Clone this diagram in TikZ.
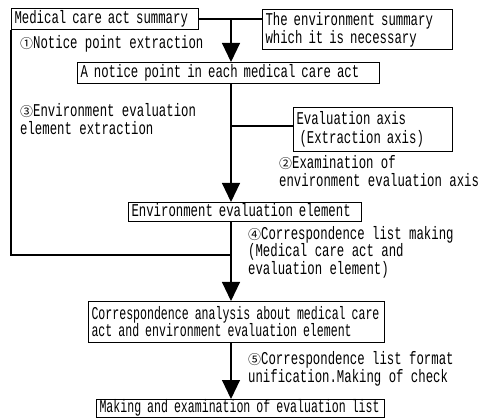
\documentclass[tikz,border=0pt]{standalone}
\usepackage{fontspec}
\setmainfont{Liberation Mono}[FakeStretch=0.685]
\newfontfamily\narrowfont{Liberation Mono}[FakeStretch=0.643]
\newfontfamily\cjkfont{Noto Sans CJK JP}
\usetikzlibrary{arrows.meta}
\newcommand\cnum[1]{{\cjkfont\fontsize{13}{16}\selectfont #1}}
\begin{document}
\begin{tikzpicture}[x=1pt,y=-1pt,
  font=\fontsize{18}{16}\selectfont,
  box/.style={draw,line width=1.1pt,anchor=north west,inner xsep=3pt,inner ysep=0pt,align=left},
  one/.style={text height=11pt,text depth=3pt},
  lbl/.style={anchor=west,inner sep=0pt,align=left,font=\fontsize{18}{17.5}\selectfont},
  conn/.style={line width=1.1pt},
  arr/.style={line width=1.1pt,-{Triangle[length=19pt,width=18pt]}}]
\useasboundingbox (0,0) rectangle (479,419);
% boxes
\node[box,one,text width=181pt,minimum height=21pt] (b1) at (11,8) {\mbox{Medical care act summary}};
\node[box,text width=184pt,minimum height=40pt] (b2) at (262,9) {\mbox{The environment summary}\\\mbox{which it is necessary}};
\node[box,one,text width=296pt,minimum height=21pt] (b3) at (77,62) {\mbox{A notice point in each medical care act}};
\node[box,text width=153pt,minimum height=44pt,font=\fontsize{18}{19}\selectfont] (ax) at (293,107) {\mbox{Evaluation axis}\\\hspace*{3pt}\mbox{(Extraction axis)}};
\node[box,one,text width=227pt,minimum height=19pt] (b4) at (128,202) {\mbox{Environment evaluation element}};
\node[box,text width=290pt,minimum height=41pt,font=\narrowfont\fontsize{18}{17}\selectfont] (b5) at (88,301) {\mbox{Correspondence analysis about medical care}\\\mbox{act and environment evaluation element}};
\node[box,one,text width=282pt,minimum height=18pt,font=\narrowfont\fontsize{18}{16}\selectfont] (b6) at (96,399) {\mbox{Making and examination of evaluation list}};
% junctions
\coordinate (j1) at (231,19);
\coordinate (j2) at (231,126);
\coordinate (j3) at (231,255);
% connectors
\draw[conn] (b1.east |- j1) -- (b2.west |- j1);
\draw[arr] (j1) -- (j1 |- b3.north);
\draw[arr] (j1 |- b3.south) -- (j1 |- b4.north);
\draw[conn] (j2) -- (ax.west |- j2);
\draw[arr] (j1 |- b4.south) -- (j1 |- b5.north);
\draw[conn] (b1.south west) |- (j3);
\draw[arr] (j1 |- b5.south) -- (j1 |- b6.north);
% labels
\node[lbl] (l1) at (20,44) {\cnum{①}Notice point extraction};
\node[lbl] (l3) at (20,119) {\cnum{③}Environment evaluation\\element extraction};
\node[lbl] (l2) at (279,171) {\cnum{②}Examination of\\environment evaluation axis};
\node[lbl] (l4) at (248,252) {\cnum{④}Correspondence list making\\(Medical care act and\\evaluation element)};
\node[lbl] (l5) at (248,369) {\cnum{⑤}Correspondence list format\\unification.Making of check};
\end{tikzpicture}
\end{document}
